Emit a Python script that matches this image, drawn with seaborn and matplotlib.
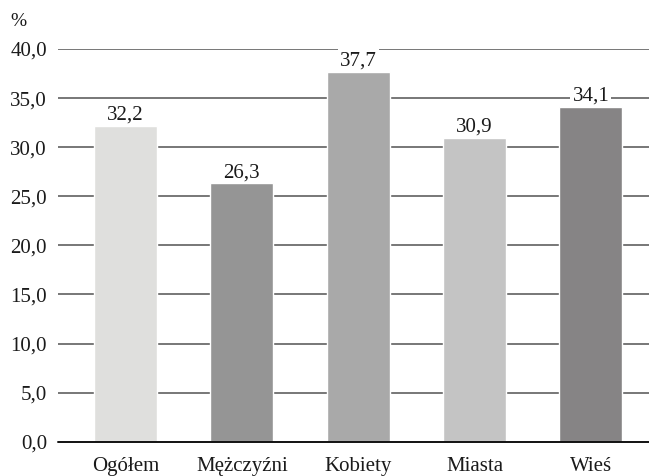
import matplotlib
matplotlib.use("Agg")
import matplotlib.pyplot as plt
import seaborn as sns
import pandas as pd

categories = ["Ogółem", "Mężczyźni", "Kobiety", "Miasta", "Wieś"]
values = [32.2, 26.3, 37.7, 30.9, 34.1]
colors = ["#dfdfdd", "#959595", "#a9a9a9", "#c4c4c4", "#868485"]
yticks = [0, 5, 10, 15, 20, 25, 30, 35, 40]

sns.set_theme(style="white")
FAM = ['Liberation Serif', 'DejaVu Serif']
plt.rcParams['font.family'] = FAM

df = pd.DataFrame({"cat": categories, "val": values})

fig = plt.figure(figsize=(6.49, 4.76), dpi=100)
ax = fig.add_axes([58/649, 1-441.7/476, (649-58)/649, (441.7-49)/476])

sns.barplot(data=df, x="cat", y="val", hue="cat", palette=colors, order=categories,
            hue_order=categories, legend=False, width=0.54, ax=ax, saturation=1, zorder=3)

ax.set_ylim(0, 40)
ax.set_xlim(-0.58, 4.5)
ax.set_yticks(yticks)
ax.set_yticklabels([f"{v:.1f}".replace(".", ",") for v in yticks], fontsize=15,
                   color="#1a1a1a", family=FAM)
ax.set_xticks(range(len(categories)))
ax.set_xticklabels(categories, fontsize=15, color="#1a1a1a", family=FAM)
ax.tick_params(axis="x", pad=11, length=0)
ax.tick_params(axis="y", pad=8, length=0)
for t in yticks[1:]:
    ax.axhline(t, color="#606060", lw=1.2, zorder=1)
ax.axhline(0, color="#111111", lw=1.4, zorder=4, clip_on=False)
for s in ax.spines.values():
    s.set_visible(False)
ax.set_xlabel("")
ax.set_ylabel("")

for i, v in enumerate(values):
    ax.annotate(f"{v:.1f}".replace(".", ","), xy=(i, v), xytext=(0, 1), textcoords="offset points",
                ha="center", va="bottom", fontsize=15, color="#1a1a1a", zorder=5, family=FAM,
                bbox=dict(facecolor="white", edgecolor="none", pad=1.5))

fig.text(10/649, 1-22/476, "%", fontsize=14, va="center", ha="left", color="#1a1a1a", family=FAM)

fig.savefig("out.png", dpi=100)
